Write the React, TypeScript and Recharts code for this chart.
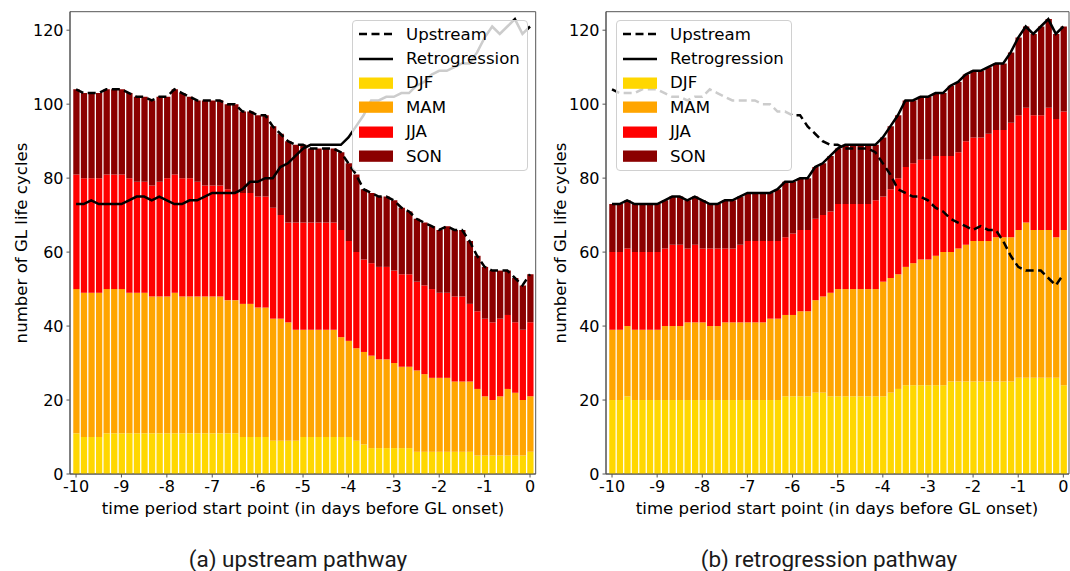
import React from 'react';
import { ComposedChart, Bar, Line, XAxis, YAxis, Legend, ReferenceArea } from 'recharts';

// time period start points, in hours before GL onset (4-hourly)
const startHours = [
  -240, -236, -232, -228, -224, -220, -216, -212, -208, -204,
  -200, -196, -192, -188, -184, -180, -176, -172, -168, -164,
  -160, -156, -152, -148, -144, -140, -136, -132, -128, -124,
  -120, -116, -112, -108, -104, -100, -96, -92, -88, -84,
  -80, -76, -72, -68, -64, -60, -56, -52, -48, -44,
  -40, -36, -32, -28, -24, -20, -16, -12, -8, -4,
  0,
];
const dayTicks = [-240, -216, -192, -168, -144, -120, -96, -72, -48, -24, 0];
const countTicks = [0, 20, 40, 60, 80, 100, 120];

// (a) upstream pathway
const upDJF = [
  11, 10, 10, 10, 11, 11, 11, 11, 11, 11, 11, 11, 11, 11, 11, 11, 11, 11, 11, 11,
  11, 11, 10, 10, 10, 10, 9, 9, 9, 9, 10, 10, 10, 10, 10, 10, 10, 9, 8, 7,
  7, 7, 7, 7, 7, 6, 6, 6, 6, 6, 6, 6, 6, 5, 5, 5, 5, 5, 5, 5, 6,
];
const upMAM = [
  39, 39, 39, 39, 39, 39, 39, 38, 38, 38, 37, 37, 37, 38, 37, 37, 37, 37, 37, 37,
  36, 36, 36, 36, 35, 35, 33, 33, 32, 30, 29, 29, 29, 29, 29, 27, 26, 25, 25, 25,
  24, 24, 23, 22, 22, 22, 21, 20, 20, 20, 19, 19, 19, 18, 16, 15, 16, 18, 17, 15, 15,
];
const upJJA = [
  31, 31, 31, 31, 31, 31, 31, 31, 30, 30, 30, 31, 32, 32, 32, 32, 31, 30, 30, 30,
  30, 29, 30, 30, 30, 30, 30, 28, 27, 29, 29, 29, 29, 29, 29, 29, 27, 26, 25, 25,
  25, 25, 25, 25, 25, 24, 24, 24, 23, 23, 23, 23, 21, 21, 21, 21, 21, 20, 19, 19, 20,
];
const upSON = [
  23, 23, 23, 23, 23, 23, 23, 23, 23, 23, 23, 23, 22, 23, 23, 22, 22, 23, 23, 23,
  23, 24, 22, 22, 22, 22, 22, 22, 22, 21, 21, 20, 20, 20, 20, 21, 21, 21, 19, 19,
  19, 19, 19, 18, 17, 17, 17, 17, 17, 18, 18, 18, 17, 15, 14, 14, 13, 12, 12, 12, 13,
];

// (b) retrogression pathway
const reDJF = [
  20, 20, 21, 20, 20, 20, 20, 20, 20, 20, 20, 20, 20, 20, 20, 20, 20, 20, 20, 20,
  20, 20, 20, 21, 21, 21, 21, 22, 22, 21, 21, 21, 21, 21, 21, 21, 21, 22, 23, 24,
  24, 24, 24, 24, 24, 25, 25, 25, 25, 25, 25, 25, 25, 25, 26, 26, 26, 26, 26, 26, 24,
];
const reMAM = [
  19, 19, 19, 19, 19, 19, 19, 20, 20, 20, 21, 21, 21, 20, 20, 21, 21, 21, 21, 21,
  21, 22, 22, 22, 22, 23, 23, 25, 26, 28, 29, 29, 29, 29, 29, 29, 31, 31, 31, 32,
  33, 34, 34, 35, 36, 35, 36, 37, 38, 38, 38, 39, 39, 39, 40, 42, 40, 40, 40, 38, 42,
];
const reJJA = [
  21, 21, 21, 21, 21, 21, 21, 21, 22, 22, 20, 21, 20, 21, 21, 20, 20, 21, 22, 22,
  22, 21, 21, 21, 22, 22, 22, 22, 22, 22, 23, 23, 23, 23, 23, 24, 23, 24, 26, 27,
  27, 27, 27, 27, 26, 26, 26, 28, 28, 28, 29, 29, 29, 31, 31, 31, 31, 31, 33, 32, 32,
];
const reSON = [
  13, 13, 13, 13, 13, 13, 13, 13, 13, 13, 13, 13, 13, 12, 12, 13, 13, 13, 13, 13,
  13, 13, 14, 15, 14, 14, 14, 14, 14, 15, 15, 16, 16, 16, 16, 15, 16, 17, 17, 18,
  17, 17, 17, 17, 17, 19, 19, 18, 18, 18, 18, 18, 18, 19, 21, 22, 22, 24, 24, 23, 23,
];

const seasons = [
  { key: 'djf', name: 'DJF', color: '#ffd700' },
  { key: 'mam', name: 'MAM', color: '#ffa500' },
  { key: 'jja', name: 'JJA', color: '#ff0000' },
  { key: 'son', name: 'SON', color: '#8b0000' },
];

const FONT = '"DejaVu Sans", sans-serif';
const DASH = '8 4.5';
const SPINE = '#555';
const X_DOMAIN: [number, number] = [-243.2, 3];
const Y_DOMAIN: [number, number] = [0, 125];

const buildRows = (djf: number[], mam: number[], jja: number[], son: number[]) =>
  startHours.map((hour, i) => ({
    hour,
    djf: djf[i],
    mam: mam[i],
    jja: jja[i],
    son: son[i],
    upstream: upDJF[i] + upMAM[i] + upJJA[i] + upSON[i],
    retrogression: reDJF[i] + reMAM[i] + reJJA[i] + reSON[i],
  }));

const upstreamRows = buildRows(upDJF, upMAM, upJJA, upSON);
const retroRows = buildRows(reDJF, reMAM, reJJA, reSON);

const formatDay = (h: number) => String(h / 24);

const LegendBox = () => (
  <div
    style={{
      width: 176,
      height: 151,
      boxSizing: 'border-box',
      border: '1px solid #d0d0d0',
      borderRadius: 4,
      background: 'rgba(255,255,255,0.8)',
      paddingTop: 1,
      fontFamily: FONT,
      fontSize: 16.6,
      color: '#000',
    }}
  >
    {[
      { name: 'Upstream', dash: DASH },
      { name: 'Retrogression', dash: undefined },
    ].map((l) => (
      <div key={l.name} style={{ display: 'flex', alignItems: 'center', height: 24.4 }}>
        <svg width={34} height={12} style={{ marginLeft: 6, marginRight: 13, flexShrink: 0 }}>
          <line x1={0} y1={6} x2={34} y2={6} stroke="#000" strokeWidth={2.5} strokeDasharray={l.dash} />
        </svg>
        <span>{l.name}</span>
      </div>
    ))}
    {seasons.map((s) => (
      <div key={s.key} style={{ display: 'flex', alignItems: 'center', height: 24.4 }}>
        <svg width={34} height={12} style={{ marginLeft: 6, marginRight: 13, flexShrink: 0 }}>
          <rect x={0} y={0.5} width={34} height={11.3} fill={s.color} />
        </svg>
        <span>{s.name}</span>
      </div>
    ))}
  </div>
);

type PanelProps = {
  rows: ReturnType<typeof buildRows>;
  left: number;
  width: number;
  margin: { top: number; right: number; bottom: number; left: number };
  legendLeft: number;
};

const Panel = ({ rows, left, width, margin, legendLeft }: PanelProps) => (
  <div style={{ position: 'absolute', left, top: 0 }}>
    <ComposedChart width={width} height={571} data={rows} margin={margin}>
      <XAxis
        type="number"
        dataKey="hour"
        domain={X_DOMAIN}
        allowDataOverflow
        ticks={dayTicks}
        tickFormatter={formatDay}
        interval={0}
        height={30}
        tickSize={3.5}
        tickMargin={3}
        tick={{ fontSize: 16, fill: '#000', fontFamily: FONT }}
        axisLine={{ stroke: SPINE }}
        tickLine={{ stroke: SPINE }}
      />
      <YAxis
        type="number"
        domain={Y_DOMAIN}
        allowDataOverflow
        ticks={countTicks}
        interval={0}
        width={50}
        tickSize={3.5}
        tickMargin={3}
        tick={{ fontSize: 16, fill: '#000', fontFamily: FONT }}
        axisLine={{ stroke: SPINE }}
        tickLine={{ stroke: SPINE }}
      />
      {seasons.map((s) => (
        <Bar
          key={s.key}
          dataKey={s.key}
          name={s.name}
          stackId="seasons"
          fill={s.color}
          barSize={6.3}
          isAnimationActive={false}
        />
      ))}
      <Line
        type="linear"
        dataKey="upstream"
        name="Upstream"
        stroke="#000"
        strokeWidth={2.5}
        strokeDasharray={DASH}
        dot={false}
        activeDot={false}
        isAnimationActive={false}
      />
      <Line
        type="linear"
        dataKey="retrogression"
        name="Retrogression"
        stroke="#000"
        strokeWidth={2.5}
        dot={false}
        activeDot={false}
        isAnimationActive={false}
      />
      {/* top and right spines */}
      <ReferenceArea
        x1={X_DOMAIN[0]}
        x2={X_DOMAIN[1]}
        y1={Y_DOMAIN[0]}
        y2={Y_DOMAIN[1]}
        fill="none"
        fillOpacity={0}
        stroke={SPINE}
        strokeWidth={1}
        ifOverflow="visible"
      />
      <Legend
        layout="vertical"
        align="center"
        verticalAlign="middle"
        wrapperStyle={{ left: legendLeft, top: 20, width: 176, height: 151 }}
        content={() => <LegendBox />}
      />
    </ComposedChart>
  </div>
);

export default function App() {
  return (
    <div style={{ position: 'absolute', left: 0, top: 0, width: 1070, height: 571, background: '#fff' }}>
      <Panel
        rows={upstreamRows}
        left={0}
        width={545}
        margin={{ top: 11.7, right: 9.3, bottom: 67, left: 20 }}
        legendLeft={352}
      />
      <Panel
        rows={retroRows}
        left={535}
        width={535}
        margin={{ top: 11.7, right: 1, bottom: 67, left: 21 }}
        legendLeft={81}
      />
      <svg
        width={1070}
        height={571}
        style={{ position: 'absolute', left: 0, top: 0, pointerEvents: 'none' }}
      >
        <g fontFamily={FONT} fontSize={16.6} fill="#000" textAnchor="middle">
          <text x={21} y={243} transform="rotate(-90 21 243)" dominantBaseline="central">
            number of GL life cycles
          </text>
          <text x={560} y={243} transform="rotate(-90 560 243)" dominantBaseline="central">
            number of GL life cycles
          </text>
          <text x={303} y={508} dominantBaseline="central">
            time period start point (in days before GL onset)
          </text>
          <text x={837} y={508} dominantBaseline="central">
            time period start point (in days before GL onset)
          </text>
        </g>
        <g fontFamily="Roboto, sans-serif" fontSize={22.5} fill="#1a1a1a" textAnchor="middle">
          <text x={298} y={559} dominantBaseline="central">
            (a) upstream pathway
          </text>
          <text x={829} y={559} dominantBaseline="central">
            (b) retrogression pathway
          </text>
        </g>
      </svg>
    </div>
  );
}
